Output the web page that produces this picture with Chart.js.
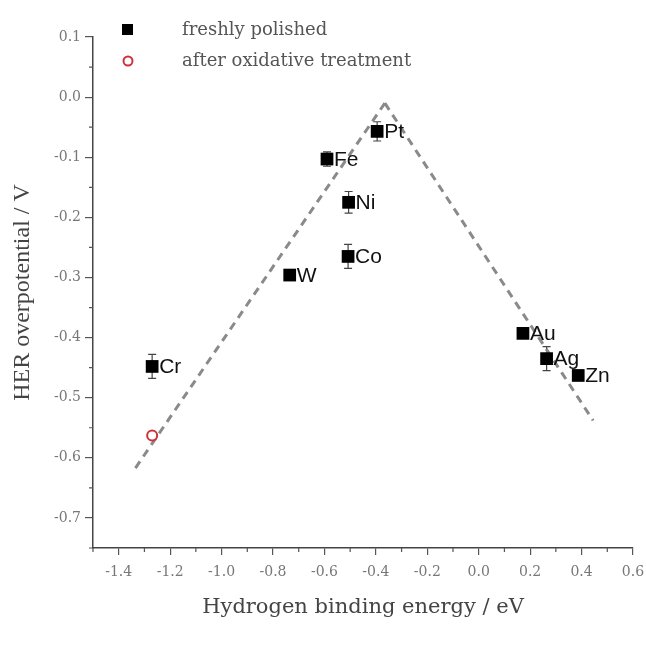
<!DOCTYPE html>
<html>
<head>
<meta charset="utf-8">
<title>HER volcano plot</title>
<script src="https://cdn.jsdelivr.net/npm/chart.js@4.4.1/dist/chart.umd.min.js"></script>
<style>
  body { margin: 0; background: #fff; }
  canvas { display: block; }
</style>
</head>
<body>
<canvas id="volcano" width="646" height="648"></canvas>
<script>
// values
const metals = ['Pt', 'Fe', 'Ni', 'Co', 'W', 'Cr', 'Au', 'Ag', 'Zn'];
const bindingEnergy = [-0.395, -0.590, -0.506, -0.508, -0.735, -1.270, 0.172, 0.264, 0.387];
const overpotential = [-0.057, -0.103, -0.175, -0.265, -0.296, -0.448, -0.393, -0.435, -0.463];
const errorBars = [0.016, 0.012, 0.018, 0.02, 0.005, 0.02, 0.006, 0.02, 0.005];

const oxidizedEnergy = [-1.270];
const oxidizedOverpotential = [-0.563];

const leftTrendX = [-1.335, -0.365];
const leftTrendY = [-0.617, -0.010];
const rightTrendX = [-0.365, 0.445];
const rightTrendY = [-0.010, -0.538];

const xTicks = [-1.4, -1.2, -1.0, -0.8, -0.6, -0.4, -0.2, 0.0, 0.2, 0.4, 0.6];
const xMinorTicks = [-1.5, -1.3, -1.1, -0.9, -0.7, -0.5, -0.3, -0.1, 0.1, 0.3, 0.5];
const yTicks = [0.1, 0.0, -0.1, -0.2, -0.3, -0.4, -0.5, -0.6, -0.7];
const yMinorTicks = [0.05, -0.05, -0.15, -0.25, -0.35, -0.45, -0.55, -0.65, -0.75];

function toPoints(xs, ys) {
    return xs.map((x, i) => ({ x: x, y: ys[i] }));
}

const serif = "'DejaVu Serif', 'Liberation Serif', serif";

// error bars, metal names, minor ticks and the legend
const extras = {
    id: 'extras',
    beforeDatasetsDraw(chart) {
        const ctx = chart.ctx;
        const xs = chart.scales.x, ys = chart.scales.y;
        ctx.save();
        ctx.strokeStyle = '#444';
        ctx.lineWidth = 1.2;
        bindingEnergy.forEach((e, i) => {
            const px = xs.getPixelForValue(e);
            const top = ys.getPixelForValue(overpotential[i] + errorBars[i]);
            const bot = ys.getPixelForValue(overpotential[i] - errorBars[i]);
            ctx.beginPath();
            ctx.moveTo(px, top); ctx.lineTo(px, bot);
            ctx.moveTo(px - 4, top); ctx.lineTo(px + 4, top);
            ctx.moveTo(px - 4, bot); ctx.lineTo(px + 4, bot);
            ctx.stroke();
        });
        ctx.restore();
    },
    afterDatasetsDraw(chart) {
        const ctx = chart.ctx;
        const xs = chart.scales.x, ys = chart.scales.y;
        ctx.save();
        ctx.fillStyle = '#111';
        ctx.font = "21px 'Liberation Sans', Arial, sans-serif";
        ctx.textBaseline = 'middle';
        metals.forEach((m, i) => {
            ctx.fillText(m, xs.getPixelForValue(bindingEnergy[i]) + 7, ys.getPixelForValue(overpotential[i]) + 1);
        });
        ctx.restore();
    },
    afterDraw(chart) {
        const ctx = chart.ctx;
        const xs = chart.scales.x, ys = chart.scales.y;
        const area = chart.chartArea;
        ctx.save();
        ctx.strokeStyle = '#555';
        ctx.lineWidth = 1.2;
        ctx.beginPath();
        xMinorTicks.forEach(v => {
            const px = xs.getPixelForValue(v);
            ctx.moveTo(px, area.bottom); ctx.lineTo(px, area.bottom + 4);
        });
        yMinorTicks.forEach(v => {
            const py = ys.getPixelForValue(v);
            ctx.moveTo(area.left, py); ctx.lineTo(area.left - 4, py);
        });
        ctx.stroke();

        // legend
        ctx.font = '18px ' + serif;
        ctx.textBaseline = 'middle';
        ctx.fillStyle = '#000';
        ctx.fillRect(122, 24, 11, 11);
        ctx.beginPath();
        ctx.arc(128, 61, 4.5, 0, Math.PI * 2);
        ctx.strokeStyle = '#d0303c';
        ctx.lineWidth = 2;
        ctx.stroke();
        ctx.fillStyle = '#555';
        ctx.fillText(chart.data.datasets[0].label, 182, 30);
        ctx.fillText(chart.data.datasets[1].label, 182, 61);
        ctx.restore();
    }
};

const ctx = document.getElementById('volcano').getContext('2d');
const volcanoChart = new Chart(ctx, {
    type: 'scatter',
    data: {
        datasets: [{
            label: 'freshly polished',
            data: toPoints(bindingEnergy, overpotential),
            pointStyle: 'rect',
            pointRadius: 9,
            backgroundColor: '#000',
            borderColor: '#000',
            borderWidth: 0,
            order: 1
        }, {
            label: 'after oxidative treatment',
            data: toPoints(oxidizedEnergy, oxidizedOverpotential),
            pointStyle: 'circle',
            pointRadius: 5,
            backgroundColor: '#fff',
            borderColor: '#d0303c',
            borderWidth: 2,
            order: 1
        }, {
            label: 'trend left',
            data: toPoints(leftTrendX, leftTrendY),
            showLine: true,
            pointRadius: 0,
            borderColor: '#8a8a8a',
            borderWidth: 3,
            borderDash: [8, 6],
            order: 2
        }, {
            label: 'trend right',
            data: toPoints(rightTrendX, rightTrendY),
            showLine: true,
            pointRadius: 0,
            borderColor: '#8a8a8a',
            borderWidth: 3,
            borderDash: [8, 6],
            order: 2
        }]
    },
    options: {
        responsive: false,
        animation: false,
        layout: { padding: { top: 37, right: 13, left: 0, bottom: 0 } },
        plugins: {
            legend: { display: false },
            tooltip: { enabled: false }
        },
        scales: {
            x: {
                type: 'linear',
                min: -1.5,
                max: 0.6,
                afterBuildTicks: axis => { axis.ticks = xTicks.map(v => ({ value: v })); },
                afterFit: axis => {
                    axis.height = 100;
                    axis.paddingLeft = 0;
                    axis.paddingRight = 0;
                },
                grid: { drawOnChartArea: false, drawTicks: true, tickLength: 7, color: '#555', lineWidth: 1.2 },
                border: { display: true, color: '#444', width: 1.5 },
                ticks: {
                    callback: v => v.toFixed(1),
                    font: { family: serif, size: 14 },
                    color: '#777',
                    padding: 9,
                    maxRotation: 0
                },
                title: {
                    display: true,
                    text: 'Hydrogen binding energy / eV',
                    font: { family: serif, size: 21 },
                    color: '#444',
                    padding: { top: 0, bottom: 28 }
                }
            },
            y: {
                type: 'linear',
                min: -0.75,
                max: 0.1,
                afterBuildTicks: axis => { axis.ticks = yTicks.map(v => ({ value: v })); },
                afterFit: axis => { axis.width = 93; },
                grid: { drawOnChartArea: false, drawTicks: true, tickLength: 8, color: '#555', lineWidth: 1.2 },
                border: { display: true, color: '#444', width: 1.5 },
                ticks: {
                    callback: v => v.toFixed(1),
                    font: { family: serif, size: 14 },
                    color: '#777',
                    padding: 4
                },
                title: {
                    display: true,
                    text: 'HER overpotential / V',
                    font: { family: "'Liberation Serif', serif", size: 24 },
                    color: '#444',
                    padding: { top: 8, bottom: 0 }
                }
            }
        }
    },
    plugins: [extras]
});
</script>
</body>
</html>
